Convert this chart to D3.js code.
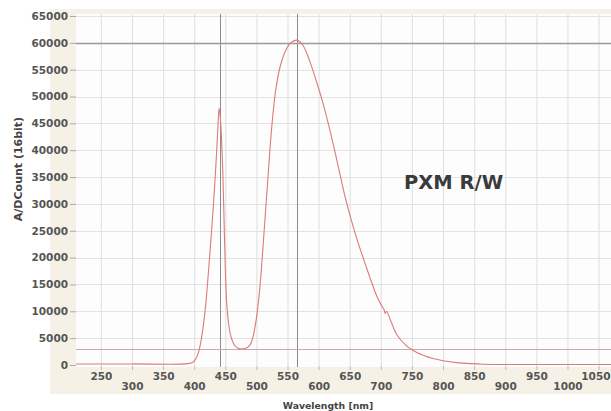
<!DOCTYPE html>
<html><head><meta charset="utf-8">
<script src="https://cdn.jsdelivr.net/npm/d3@7"></script>
<style>body{margin:0;background:#fff;}svg{display:block;}</style>
</head><body>
<script>
const wavelengths = [210, 300, 390, 398, 403, 407, 411, 415, 419, 423, 427, 431, 435, 438, 440, 442, 444, 446, 448, 450, 452, 455, 458, 462, 466, 472, 478, 484, 490, 494, 498, 502, 506, 510, 514, 518, 522, 526, 531, 538, 546, 555, 565, 575, 586, 596, 606, 618, 630, 642, 658, 675, 694, 702, 705, 707, 709, 716, 726, 740, 752, 768, 784, 800, 822, 845, 864, 900, 1000, 1071];
const counts = [200, 200, 250, 500, 1200, 2400, 4500, 7600, 11800, 17500, 23500, 30000, 37500, 44000, 47800, 46000, 42000, 36000, 27000, 18000, 12000, 8000, 5800, 4300, 3500, 3050, 3000, 3150, 3800, 5000, 7200, 10500, 15000, 21000, 27500, 34000, 40500, 46000, 51200, 55500, 58300, 60000, 60500, 59500, 56500, 53000, 49200, 43800, 37800, 31600, 24800, 18800, 12700, 10900, 10400, 9600, 10000, 8200, 5600, 3700, 2700, 1800, 1200, 800, 450, 250, 150, 100, 100, 100];
const xTicks = [250, 300, 350, 400, 450, 500, 550, 600, 650, 700, 750, 800, 850, 900, 950, 1000, 1050];
const yTicks = [0, 5000, 10000, 15000, 20000, 25000, 30000, 35000, 40000, 45000, 50000, 55000, 60000, 65000];
const cursorX = [441, 565];
const cursorY = 60000;
const thresholdY = 3000;
const annotation = "PXM R/W";
const xTitle = "Wavelength [nm]";
const yTitle = "A/DCount (16bit)";

const W = 611, H = 411;
const pL = 76, pR = 611, pT = 14, pB = 365;
const svg = d3.select("body").append("svg").attr("width", W).attr("height", H);

const x = d3.scaleLinear().domain([210, 1070]).range([pL, pR]);
const y = d3.scaleLinear().domain([0, 65000]).range([pB, 16]);

// beige frame
svg.append("rect").attr("x", 50).attr("y", 9).attr("width", W - 50).attr("height", 385).attr("fill", "#f6f1e6");
svg.append("rect").attr("x", pL).attr("y", pT).attr("width", pR - pL).attr("height", pB - pT + 2).attr("fill", "#fdfdfd");

const g = svg.append("g");
// grid
g.selectAll(".vg").data(xTicks).join("line")
  .attr("x1", d => x(d) + 0.5).attr("x2", d => x(d) + 0.5)
  .attr("y1", pT).attr("y2", pB + 1)
  .attr("stroke", "#e3e3e3").attr("stroke-width", 1.2);
g.selectAll(".hg").data(yTicks.filter(d => d > 0)).join("line")
  .attr("x1", pL).attr("x2", pR)
  .attr("y1", d => Math.round(y(d)) + 0.5).attr("y2", d => Math.round(y(d)) + 0.5)
  .attr("stroke", "#e3e3e3").attr("stroke-width", 1.2);

// cursors
g.selectAll(".cx").data(cursorX).join("line")
  .attr("x1", d => Math.round(x(d)) + 0.5).attr("x2", d => Math.round(x(d)) + 0.5)
  .attr("y1", pT).attr("y2", pB + 2)
  .attr("stroke", "#8c8c8c").attr("stroke-width", 1);
g.append("line").attr("x1", pL).attr("x2", pR)
  .attr("y1", Math.round(y(cursorY)) + 0.5).attr("y2", Math.round(y(cursorY)) + 0.5)
  .attr("stroke", "#999").attr("stroke-width", 1.3);
g.append("line").attr("x1", pL).attr("x2", pR)
  .attr("y1", Math.round(y(thresholdY)) + 0.5).attr("y2", Math.round(y(thresholdY)) + 0.5)
  .attr("stroke", "#c9abab").attr("stroke-width", 1);

// curve
const data = wavelengths.map((w, i) => [w, counts[i]]);
g.append("path").datum(data)
  .attr("d", d3.line().x(d => x(d[0])).y(d => y(d[1])).curve(d3.curveCatmullRom.alpha(0.5)))
  .attr("fill", "none").attr("stroke", "#dc7a7a").attr("stroke-width", 1.1);

// y axis
const ya = svg.append("g").attr("transform", `translate(${pL},0)`)
  .call(d3.axisLeft(y).tickValues(yTicks).tickSize(6).tickPadding(2).tickFormat(d3.format("d")));
ya.select(".domain").remove();
ya.selectAll("line").attr("stroke", "#aaa");
ya.selectAll("text").attr("font-family", "DejaVu Sans").attr("font-weight", "bold")
  .attr("font-size", 10.5).attr("fill", "#555");

// x axis
const xa = svg.append("g").attr("transform", `translate(0,${pB + 1})`)
  .call(d3.axisBottom(x).tickValues(xTicks).tickSize(4).tickFormat(d3.format("d")));
xa.select(".domain").remove();
xa.selectAll("line").attr("stroke", "#bbb");
xa.selectAll("text").attr("font-family", "DejaVu Sans").attr("font-weight", "bold")
  .attr("font-size", 10.5).attr("fill", "#555")
  .attr("y", (d, i) => i % 2 === 0 ? 7 : 17).attr("dy", "0.71em");
xa.selectAll(".tick").filter(d => d === 1050).select("text")
  .attr("text-anchor", "end").attr("x", W - 1 - x(1050));

// titles
svg.append("text").attr("x", 328).attr("y", 409).attr("text-anchor", "middle")
  .attr("font-family", "DejaVu Sans").attr("font-weight", "bold").attr("font-size", 9.3).attr("fill", "#444")
  .text(xTitle);
svg.append("text").attr("transform", "translate(22,169) rotate(-90)").attr("text-anchor", "middle")
  .attr("font-family", "DejaVu Sans").attr("font-weight", "bold").attr("font-size", 11).attr("fill", "#444")
  .text(yTitle);

svg.append("text").attr("x", 404).attr("y", 189)
  .attr("font-family", "DejaVu Sans").attr("font-weight", "bold").attr("font-size", 19.5).attr("fill", "#3a3a3a")
  .text(annotation);
</script>
</body></html>
